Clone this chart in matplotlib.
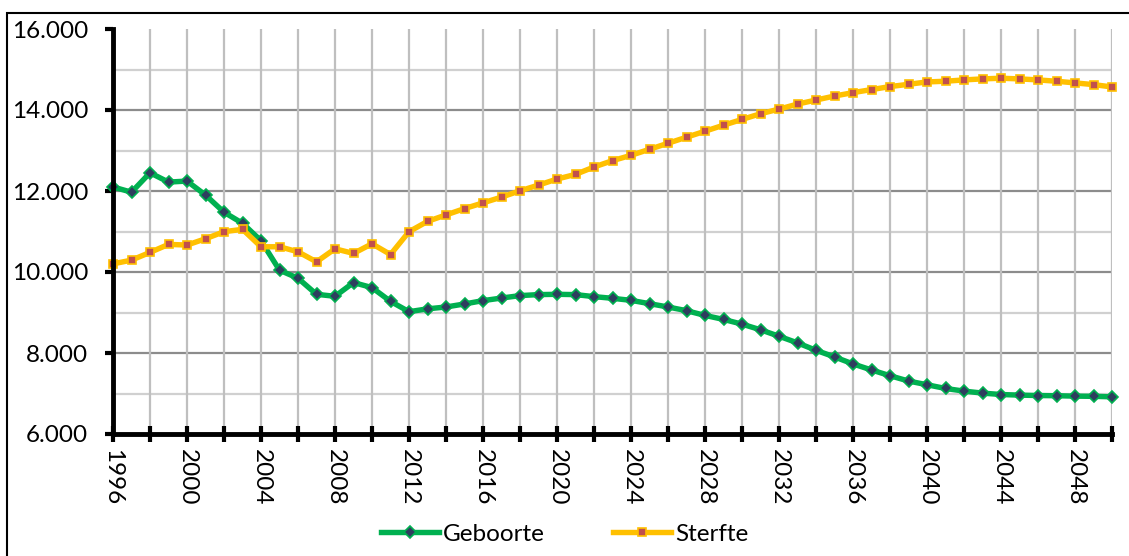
import matplotlib
matplotlib.use("Agg")
import matplotlib.pyplot as plt
from matplotlib.patches import Rectangle
from matplotlib.ticker import MultipleLocator, FuncFormatter

years = list(range(1996, 2051))
geboorte = [12100, 11970, 12450, 12220, 12245, 11900, 11476, 11203, 10772, 10045,
            9846, 9449, 9400, 9739, 9615, 9275, 9020, 9090, 9136, 9211,
            9293, 9357, 9417, 9442, 9449, 9442, 9392, 9350, 9300, 9218,
            9136, 9045, 8928, 8829, 8713, 8573, 8414, 8250, 8067, 7903,
            7730, 7581, 7439, 7308, 7216, 7124, 7059, 7010, 6975, 6960,
            6950, 6945, 6935, 6930, 6918]
sterfte = [10201, 10293, 10484, 10682, 10665, 10821, 10995, 11054, 10623, 10623,
           10499, 10251, 10573, 10459, 10697, 10432, 10995, 11250, 11409, 11566,
           11707, 11849, 12005, 12146, 12295, 12410, 12593, 12749, 12881, 13030,
           13179, 13328, 13476, 13625, 13767, 13908, 14022, 14146, 14246, 14345,
           14429, 14504, 14578, 14635, 14693, 14710, 14743, 14768, 14784, 14768,
           14743, 14710, 14669, 14627, 14569]
series_names = ["Geboorte", "Sterfte"]

plt.rcParams['font.family'] = ['Lato', 'DejaVu Sans']
FS = 17.5

fig = plt.figure(figsize=(11.29, 5.56), dpi=100)
fig.patches.append(Rectangle((7/1129, -0.1), 1.2, 1 - 13/556 + 0.1,
                             transform=fig.transFigure, fill=False,
                             edgecolor='black', linewidth=1.5))

ax = fig.add_axes([113/1129, 1 - 434/556, (1112 - 113)/1129, (434 - 29)/556])

ax.plot(years, geboorte, color='#00B050', linewidth=3.9, marker='D',
        markersize=6.5, markerfacecolor='#2E3E5E', markeredgecolor='#00B050',
        markeredgewidth=1.2, label=series_names[0], clip_on=False, zorder=4,
        solid_joinstyle='round')
ax.plot(years, sterfte, color='#FFC000', linewidth=3.9, marker='s',
        markersize=6, markerfacecolor='#C0504D', markeredgecolor='#FFC000',
        markeredgewidth=1.2, label=series_names[1], clip_on=False, zorder=4,
        solid_joinstyle='round')

ax.set_xlim(1996, 2050)
ax.set_ylim(6000, 16000)

# gridlines
for v in range(7000, 16000, 1000):
    col = '#8C8C8C' if v % 2000 == 0 else '#D0D0D0'
    ax.axhline(v, color=col, linewidth=1.6, zorder=1)
for yr in range(1998, 2051, 2):
    ax.axvline(yr, color='#BFBFBF', linewidth=1.6, zorder=1)

ax.yaxis.set_major_locator(MultipleLocator(2000))
ax.yaxis.set_major_formatter(FuncFormatter(lambda v, p: f"{int(v):,}".replace(",", ".")))
ax.xaxis.set_major_locator(MultipleLocator(2))
ax.xaxis.set_major_formatter(FuncFormatter(lambda v, p: str(int(v)) if (int(v) - 1996) % 4 == 0 else ""))

for s in ['top', 'right']:
    ax.spines[s].set_visible(False)
for s in ['left', 'bottom']:
    ax.spines[s].set_linewidth(3.5)
    ax.spines[s].set_zorder(5)

ax.tick_params(axis='y', direction='out', length=6, width=3, labelsize=FS, pad=12)
ax.tick_params(axis='x', direction='inout', length=11, width=3, labelsize=FS,
               labelrotation=270, pad=5)
for lab in ax.get_xticklabels():
    lab.set_verticalalignment('top')

fig.legend(loc='center', bbox_to_anchor=(0.5, 1 - 534/556), ncol=2, frameon=False,
           fontsize=FS, handlelength=2.4, handletextpad=0.15, columnspacing=2.8,
           markerscale=1.0)

fig.savefig("out.png", dpi=100)
